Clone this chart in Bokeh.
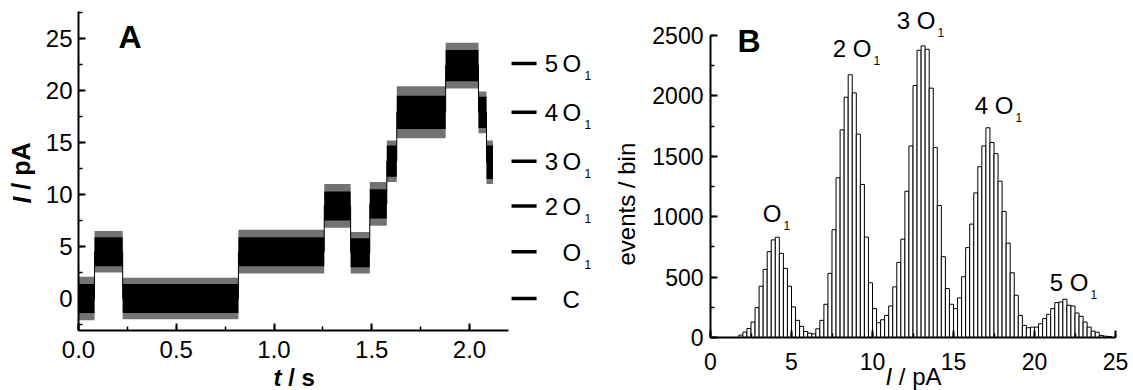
from math import pi
from bokeh.plotting import figure
from bokeh.models import (Range1d, SingleIntervalTicker, PrintfTickFormatter,
                          ColumnDataSource, LabelSet)
from bokeh.layouts import row
from bokeh.core.properties import value
from bokeh.embed import file_html
from bokeh.resources import INLINE

FONT = "Liberation Sans"

# ---------------- Panel A: current trace (segments) -------------
seg_start = [0.000, 0.082, 0.226, 0.818, 1.257, 1.392, 1.490, 1.577, 1.628, 1.878, 2.046, 2.087]
seg_end   = [0.082, 0.226, 0.818, 1.257, 1.392, 1.490, 1.577, 1.628, 1.878, 2.046, 2.087, 2.120]
seg_level = [0.0, 4.5, 0.0, 4.5, 8.9, 4.4, 9.1, 13.2, 17.9, 22.4, 17.9, 13.1]
seg_core  = [1.4, 1.4, 1.4, 1.4, 1.4, 1.4, 1.4, 1.5, 1.6, 1.5, 1.5, 1.6]   # dense noise half-width
seg_spike = [2.1, 2.0, 2.0, 2.1, 2.1, 2.0, 2.1, 2.0, 2.5, 2.2, 2.0, 2.1]   # spike half-width

level_values = [0.0, 4.5, 8.9, 13.2, 17.9, 22.6]
level_prefix = ["", "", "2", "3", "4", "5"]
level_main   = ["C", "O", "O", "O", "O", "O"]
level_sub    = ["", "1", "1", "1", "1", "1"]

# ---------------- Panel B: amplitude histogram (bin width 0.25 pA) ----------------------
bin_left = [1.75 + 0.25 * i for i in range(92)]
counts = [20, 45, 75, 128, 247, 425, 564, 711, 808, 830,
          697, 572, 425, 253, 142, 92, 50, 36, 30, 72,
          142, 275, 531, 892, 1322, 1719, 1989, 2175, 2025, 1683,
          1267, 831, 453, 239, 122, 147, 183, 261, 419, 622,
          814, 1211, 1586, 2086, 2378, 2414, 2386, 2064, 1572, 1092,
          669, 405, 275, 239, 328, 503, 744, 939, 1197, 1414,
          1586, 1736, 1614, 1522, 1294, 1044, 781, 536, 350, 183,
          100, 81, 86, 86, 114, 156, 192, 239, 289, 294,
          317, 267, 261, 203, 175, 128, 86, 53, 44, 17,
          11, 8]

peak_prefix = ["O", "2 O", "3 O", "4 O", "5 O"]
peak_sub = ["1", "1", "1", "1", "1"]
peak_x = [4.38, 9.94, 13.89, 18.70, 23.33]
peak_y = [952, 2318, 2550, 1854, 389]


def style_axis(ax, size):
    ax.axis_line_width = 2
    ax.axis_line_color = "black"
    ax.major_tick_line_width = 2
    ax.minor_tick_line_width = 1.5
    ax.major_tick_line_color = "black"
    ax.minor_tick_line_color = "black"
    ax.major_tick_in = 7
    ax.major_tick_out = 0
    ax.minor_tick_in = 4
    ax.minor_tick_out = 0
    ax.major_label_text_font = FONT
    ax.major_label_text_font_size = size
    ax.major_label_text_color = "black"


def add_text(p, x, y, text, size, style="normal", align="left", angle=0.0,
             x_offset=0, y_offset=0):
    src = ColumnDataSource(dict(x=[x], y=[y], t=[text]))
    p.add_layout(LabelSet(x="x", y="y", text="t", source=src, text_align=align,
                          text_baseline="alphabetic", angle=angle,
                          x_offset=x_offset, y_offset=y_offset,
                          text_font=value(FONT), text_font_size=size,
                          text_font_style=style, text_color="black"))


# ======================= Panel A =======================
A_W, H = 603, 390
A_PXS = 195.5     # px per second
A_PYA = 10.4      # px per pA
A_X0, A_Y0 = 78, 298   # pixel of t=0 and I=0 in the canvas
a_xr = Range1d(-A_X0 / A_PXS, (A_W - A_X0) / A_PXS)
a_yr = Range1d((A_Y0 - H) / A_PYA, A_Y0 / A_PYA)
pA = figure(width=A_W, height=H, min_border=0, x_range=a_xr, y_range=a_yr,
            title_location=None, output_backend="svg", toolbar_location=None)
pA.outline_line_color = None
pA.grid.visible = False

fr_lo = [l - s for l, s in zip(seg_level, seg_spike)]
fr_hi = [l + s for l, s in zip(seg_level, seg_spike)]
co_lo = [l - c for l, c in zip(seg_level, seg_core)]
co_hi = [l + c for l, c in zip(seg_level, seg_core)]
pA.quad(left=seg_start, right=seg_end, bottom=fr_lo, top=fr_hi,
        fill_color="black", fill_alpha=0.55, line_color=None)
pA.quad(left=seg_start, right=seg_end, bottom=co_lo, top=co_hi,
        fill_color="black", line_color=None)
tx, ty = [], []
for s, e, l in zip(seg_start, seg_end, seg_level):
    tx += [s, e]
    ty += [l, l]
pA.line(tx, ty, line_color="black", line_width=1)

A_YMIN = -3.08
xa = pA.xaxis[0]
style_axis(xa, "24px")
xa.ticker = SingleIntervalTicker(interval=0.5, num_minor_ticks=2)
xa.formatter = PrintfTickFormatter(format="%.1f")
xa.bounds = (0, 2.2)
xa.fixed_location = A_YMIN
xa.major_label_standoff = 10
ya = pA.yaxis[0]
style_axis(ya, "24px")
ya.ticker = SingleIntervalTicker(interval=5, num_minor_ticks=2)
ya.bounds = (A_YMIN, 27.55)
ya.fixed_location = 0
ya.major_label_standoff = 6

# level ladder to the right of the trace
n = len(level_values)
pA.segment(x0=[2.215] * n, x1=[2.343] * n, y0=level_values, y1=level_values,
           line_color="black", line_width=3.5)
lv = ColumnDataSource(dict(y=level_values, pre=level_prefix, main=level_main, sub=level_sub,
                           xp=[2.453] * n, xm=[2.476] * n, xs=[2.588] * n))
pA.add_layout(LabelSet(x="xp", y="y", text="pre", source=lv, text_align="right",
                       text_baseline="alphabetic", y_offset=-9, text_font=value(FONT),
                       text_font_size="24px", text_color="black"))
pA.add_layout(LabelSet(x="xm", y="y", text="main", source=lv, text_align="left",
                       text_baseline="alphabetic", y_offset=-9, text_font=value(FONT),
                       text_font_size="24px", text_color="black"))
pA.add_layout(LabelSet(x="xs", y="y", text="sub", source=lv, text_align="left",
                       text_baseline="alphabetic", y_offset=-17, text_font=value(FONT),
                       text_font_size="12px", text_color="black"))

add_text(pA, 0.2046, 24.04, "A", "32px", "bold")

# y axis title  "I / pA"  (I in italics)
add_text(pA, -0.2455, 9.13, "I", "25px", "bold italic", angle=pi / 2)
add_text(pA, -0.2455, 9.13 + (0.556 * 25) / A_PYA, "/ pA", "25px", "bold", angle=pi / 2)
# x axis title  "t / s"
add_text(pA, 0.9974, -8.37, "t", "24px", "bold italic")
add_text(pA, 0.9974 + (0.611 * 24) / A_PXS, -8.37, "/ s", "24px", "bold")

# ======================= Panel B =======================
B_W = 1133 - A_W
B_PXA = 16.2          # px per pA
B_CPP = 2500 / 302.0  # counts per px
B_X0 = 710 - A_W      # canvas pixel of I=0
B_Y0 = 337            # canvas pixel of count=0
b_xr = Range1d(-B_X0 / B_PXA, (B_W - B_X0) / B_PXA)
b_yr = Range1d(-(H - B_Y0) * B_CPP, B_Y0 * B_CPP)
pB = figure(width=B_W, height=H, min_border=0, x_range=b_xr, y_range=b_yr,
            title_location=None, output_backend="svg", toolbar_location=None)
pB.outline_line_color = None
pB.grid.visible = False

centers = [b + 0.125 for b in bin_left]
pB.vbar(x=centers, width=0.25, top=counts, bottom=0,
        fill_color="white", line_color="black", line_width=1)

xb = pB.xaxis[0]
style_axis(xb, "23px")
xb.ticker = SingleIntervalTicker(interval=5, num_minor_ticks=2)
xb.bounds = (0, 25)
xb.fixed_location = 0
xb.major_label_standoff = 15
yb = pB.yaxis[0]
style_axis(yb, "23px")
yb.ticker = SingleIntervalTicker(interval=500, num_minor_ticks=2)
yb.bounds = (0, 2500)
yb.fixed_location = 0
yb.major_label_standoff = 7

pk = ColumnDataSource(dict(x=peak_x, y=peak_y, pre=peak_prefix, sub=peak_sub))
pB.add_layout(LabelSet(x="x", y="y", text="pre", source=pk, text_align="right",
                       text_baseline="alphabetic", text_font=value(FONT),
                       text_font_size="24px", text_color="black"))
pB.add_layout(LabelSet(x="x", y="y", text="sub", source=pk, text_align="left",
                       text_baseline="alphabetic", x_offset=2, y_offset=-8,
                       text_font=value(FONT), text_font_size="12px", text_color="black"))

add_text(pB, 1.667, 2367, "B", "32px", "bold")
add_text(pB, -4.63, 596, "events / bin", "24px", angle=pi / 2)
B_XLAB_Y = -(384.5 - B_Y0) * B_CPP
add_text(pB, 10.8, B_XLAB_Y, "I", "24px", "italic")
add_text(pB, 10.8 + (0.556 * 24) / B_PXA, B_XLAB_Y, "/ pA", "24px")

layout = row(pA, pB)
open("out.html", "w").write(file_html(layout, INLINE))
